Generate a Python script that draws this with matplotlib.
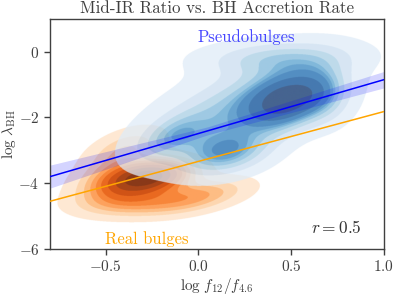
import numpy as np
import matplotlib
matplotlib.use('Agg')
import matplotlib.pyplot as plt

# ----------------------------------------------------------------------
# density components (x, y, sigma_x, sigma_y, rho, weight)
blue_cx = [0.23, 0.48, 0.15, 0.42, 0.68, -0.15]
blue_cy = [-1.75, -1.50, -3.10, -0.20, -1.30, -2.60]
blue_sx = [0.32, 0.14, 0.16, 0.27, 0.10, 0.12]
blue_sy = [1.00, 0.55, 0.45, 0.35, 0.60, 0.45]
blue_rho = [0.6, 0.3, 0.3, 0.1, 0.0, 0.5]
blue_w = [0.45, 0.22, 0.12, 0.10, 0.06, 0.05]

orng_cx = [-0.42, -0.25, 0.00, -0.40, -0.35]
orng_cy = [-4.00, -3.80, -4.40, -3.00, -4.60]
orng_sx = [0.15, 0.14, 0.18, 0.14, 0.20]
orng_sy = [0.40, 0.33, 0.35, 0.45, 0.30]
orng_rho = [0.3, 0.3, 0.5, 0.5, 0.2]
orng_w = [0.22, 0.35, 0.15, 0.12, 0.16]

# fitted relations
fit_x = [-0.8, 1.0]
blue_fit_y = [-3.80, -0.85]
orng_fit_y = [-4.55, -1.82]
band_half = [0.35, 0.12, 0.25]   # band half-width at left end, middle, right end
r_value = 0.5

XLIM = (-0.8, 1.0)
YLIM = (-6, 1)


def mixture(gx, gy, cx, cy, sx, sy, rho, w):
    z = np.zeros_like(gx)
    for x0, y0, a, b, r, ww in zip(cx, cy, sx, sy, rho, w):
        u = (gx - x0) / a
        v = (gy - y0) / b
        q = (u * u - 2 * r * u * v + v * v) / (1 - r * r)
        z += ww * np.exp(-0.5 * q) / (a * b * np.sqrt(1 - r * r))
    return z


def iso_levels(z, thresh=0.05, n=10):
    """ density levels enclosing given probability mass (like seaborn) """
    vals = np.sort(z.ravel())
    cum = np.cumsum(vals)
    cum /= cum[-1]
    qs = np.linspace(thresh, 1, n)
    lv = [vals[min(np.searchsorted(cum, q), len(vals) - 1)] for q in qs]
    lv[-1] = z.max() * 1.01
    return np.unique(lv)


def filled_density(ax, cmap, comps, alpha):
    # wide grid for the levels, fine grid on the axes for drawing
    wx, wy = np.meshgrid(np.linspace(-1.5, 1.7, 400), np.linspace(-8.0, 3.0, 400))
    lev = iso_levels(mixture(wx, wy, *comps))
    fx, fy = np.meshgrid(np.linspace(XLIM[0], XLIM[1], 1340),
                         np.linspace(YLIM[0], YLIM[1], 920))
    z = mixture(fx, fy, *comps)
    idx = np.digitize(z, lev) - 1
    cols = cmap(np.linspace(0.12, 1.0, len(lev) - 1))
    cols[:, 3] = alpha
    rgba = np.zeros(z.shape + (4,))
    rgba[..., :3] = cols[0, :3]          # transparent but same tint, no dark fringe
    ok = (idx >= 0) & (idx < len(cols))
    rgba[ok] = cols[idx[ok]]
    ax.imshow(rgba, extent=[XLIM[0], XLIM[1], YLIM[0], YLIM[1]], origin='lower',
              aspect='auto', interpolation='antialiased', interpolation_stage='rgba',
              zorder=1)


plt.rcParams['font.family'] = 'serif'
plt.rcParams['font.serif'] = ['cmr10']
plt.rcParams['mathtext.fontset'] = 'cm'
plt.rcParams['axes.formatter.use_mathtext'] = True
plt.rcParams['axes.unicode_minus'] = True

fig = plt.figure(figsize=(3.99, 2.95), dpi=100)
ax = fig.add_axes([0.125, 0.156, 0.837, 0.780])

filled_density(ax, plt.cm.Oranges,
               (orng_cx, orng_cy, orng_sx, orng_sy, orng_rho, orng_w), 0.92)
filled_density(ax, plt.cm.Blues,
               (blue_cx, blue_cy, blue_sx, blue_sy, blue_rho, blue_w), 0.75)

# fits
xs = np.linspace(fit_x[0], fit_x[1], 60)
yb = np.interp(xs, fit_x, blue_fit_y)
half = np.interp(xs, [fit_x[0], 0.05, fit_x[1]], band_half)
ax.fill_between(xs, yb - half, yb + half, color='blue', alpha=0.17, lw=0, zorder=2)
ax.plot(fit_x, blue_fit_y, color='blue', lw=1.1, zorder=3)
ax.plot(fit_x, orng_fit_y, color='orange', lw=1.1, zorder=3)

ax.text(0.26, 0.45, 'Pseudobulges', color='#4646ff', fontsize=12, ha='center', va='center')
ax.text(-0.28, -5.69, 'Real bulges', color='orange', fontsize=12, ha='center', va='center')
ax.text(0.88, -5.35, r'$r = %.1f$' % r_value, color='.2', fontsize=12.5, ha='right', va='center')

ax.set_xlim(*XLIM)
ax.set_ylim(*YLIM)
ax.set_xticks([-0.5, 0.0, 0.5, 1.0])
ax.set_yticks([0, -2, -4, -6])
ax.set_title('Mid-IR Ratio vs. BH Accretion Rate', fontsize=12.2, color='.25', pad=4)
ax.set_xlabel(r'$\log\,f_{12}/f_{4.6}$', fontsize=11, color='.25', labelpad=1)
ax.set_ylabel(r'$\log\,\lambda_{\rm BH}$', fontsize=11, color='.25', labelpad=0)
ax.tick_params(labelsize=11, colors='.25', length=4, width=1.0, direction='out')
for s in ax.spines.values():
    s.set_color('.25')
    s.set_linewidth(1.0)

fig.savefig('out.png', dpi=100)
